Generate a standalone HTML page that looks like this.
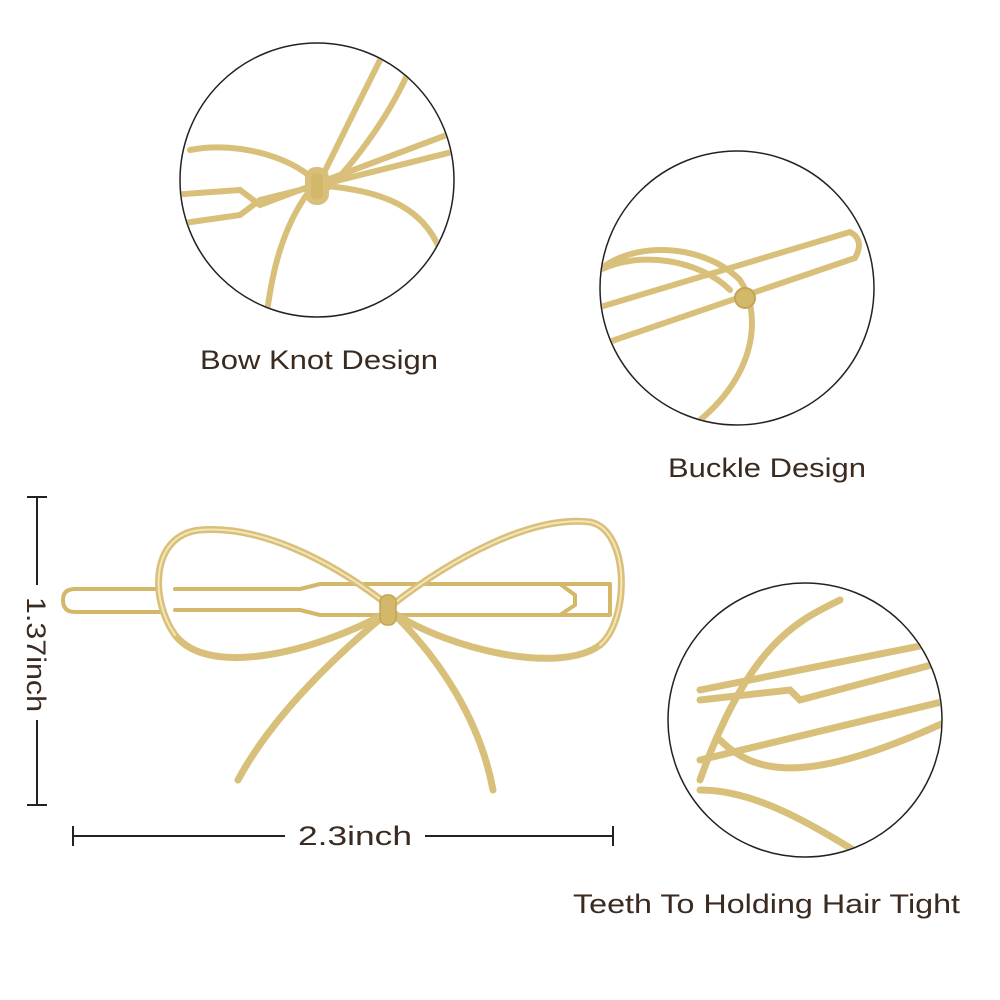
<!DOCTYPE html>
<html><head><style>
html,body{margin:0;padding:0;background:#fff;width:1000px;height:1000px;overflow:hidden}
svg{display:block}
text{font-family:"Liberation Sans",sans-serif;fill:#3a2a1f}
</style></head><body>
<svg width="1000" height="1000" viewBox="0 0 1000 1000" xmlns="http://www.w3.org/2000/svg">
<defs>
<clipPath id="c1"><circle cx="317" cy="180" r="136"/></clipPath>
<clipPath id="c2"><circle cx="737" cy="288" r="136"/></clipPath>
<clipPath id="c3"><circle cx="805" cy="720" r="136"/></clipPath>
</defs>
<g fill="none" stroke-linecap="round" stroke-linejoin="round">
<g stroke="#d4b86a" stroke-width="4">
<path d="M160 589 L75 589 Q63 589 63 600 Q63 612 75 612 L160 612"/>
<path d="M175 589 L300 589 L320 584 L610 584 L610 615 L320 615 L300 610 L175 610"/>
<path d="M560 584 L575 595 L575 605 L560 615"/>
</g>
<g stroke="#d9c07a" stroke-width="7">
<path d="M388 605 C330 560 260 525 200 530 C150 535 150 600 175 635 C210 680 320 650 388 612"/>
<path d="M392 605 C450 560 530 515 590 522 C630 530 630 620 600 645 C560 675 450 650 392 612"/>
<path d="M385 615 C330 660 270 720 238 780"/>
<path d="M395 615 C440 660 480 720 493 790"/>
</g>
<g stroke="#f4e6b8" stroke-width="2">
<path d="M388 605 C330 560 260 525 200 530 C150 535 150 600 175 635"/>
<path d="M392 605 C450 560 530 515 590 522 C630 530 630 620 600 645"/>
</g>
<rect x="380" y="595" width="16" height="30" rx="7" fill="#d4b86a" stroke="#c2a453" stroke-width="1.5"/>
</g>
<g clip-path="url(#c1)" fill="none" stroke="#d9c07a" stroke-width="6" stroke-linecap="round">
<path d="M170 195 L240 190 L260 205 L460 130"/>
<path d="M170 225 L240 215 L260 200 L460 150"/>
<path d="M318 185 C300 160 240 140 190 150"/>
<path d="M318 185 C340 140 370 80 390 40"/>
<path d="M318 185 C370 190 420 200 440 250 C450 300 420 330 400 330"/>
<path d="M310 190 C280 230 270 280 265 330"/>
<path d="M325 190 C340 180 400 110 420 40"/>
<rect x="308" y="170" width="18" height="32" rx="8" fill="#d4b86a"/>
</g>
<circle cx="317" cy="180" r="137" fill="none" stroke="#222" stroke-width="1.5"/>
<g clip-path="url(#c2)" fill="none" stroke="#d9c07a" stroke-width="6" stroke-linecap="round">
<path d="M590 310 L850 232 Q865 240 855 258 L600 345"/>
<path d="M590 280 C620 240 700 240 740 280 C760 310 760 370 700 420"/>
<path d="M600 270 C640 250 700 260 730 290"/>
<circle cx="745" cy="298" r="10" fill="#d4b86a" stroke="#c2a453" stroke-width="2"/>
</g>
<circle cx="737" cy="288" r="137" fill="none" stroke="#222" stroke-width="1.5"/>
<g clip-path="url(#c3)" fill="none" stroke="#d9c07a" stroke-width="7" stroke-linecap="round">
<path d="M700 690 L950 640"/>
<path d="M700 700 L790 690 L800 700 L950 660"/>
<path d="M700 780 C750 640 800 620 840 600"/>
<path d="M700 760 L950 700"/>
<path d="M700 790 C760 790 820 830 870 860"/>
<path d="M720 740 C760 780 820 780 950 720"/>
</g>
<circle cx="805" cy="720" r="137" fill="none" stroke="#222" stroke-width="1.5"/>
<g stroke="#222" stroke-width="2">
<line x1="37" y1="497" x2="37" y2="585"/>
<line x1="37" y1="720" x2="37" y2="805"/>
<line x1="27" y1="497" x2="47" y2="497"/>
<line x1="27" y1="805" x2="47" y2="805"/>
<line x1="73" y1="836" x2="285" y2="836"/>
<line x1="425" y1="836" x2="613" y2="836"/>
<line x1="73" y1="826" x2="73" y2="846"/>
<line x1="613" y1="826" x2="613" y2="846"/>
</g>
<text x="298" y="845" font-size="27" textLength="114" lengthAdjust="spacingAndGlyphs">2.3inch</text>
<text x="0" y="0" font-size="27" textLength="115" lengthAdjust="spacingAndGlyphs" transform="translate(27,597) rotate(90)">1.37inch</text>
<text x="200" y="369" font-size="27" textLength="238" lengthAdjust="spacingAndGlyphs">Bow Knot Design</text>
<text x="668" y="477" font-size="27" textLength="198" lengthAdjust="spacingAndGlyphs">Buckle Design</text>
<text x="573" y="913" font-size="27" textLength="387" lengthAdjust="spacingAndGlyphs">Teeth To Holding Hair Tight</text>
</svg>
</body></html>
